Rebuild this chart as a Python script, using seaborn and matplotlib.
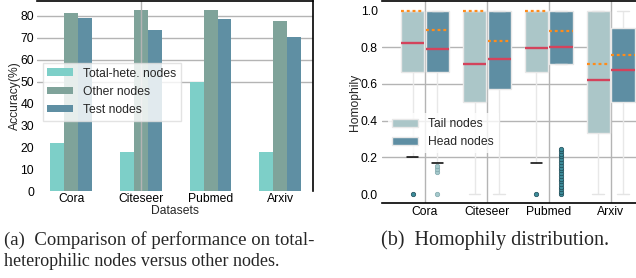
import numpy as np
import pandas as pd
import matplotlib
matplotlib.use("Agg")
import matplotlib.pyplot as plt
import seaborn as sns

# ---------------- data: (a) accuracy ----------------
datasets = ["Cora", "Citeseer", "Pubmed", "Arxiv"]
acc_groups = ["Total-hete. nodes", "Other nodes", "Test nodes"]
acc_total_hete = [22.0, 18.0, 50.0, 18.0]
acc_other = [81.5, 82.5, 82.5, 77.5]
acc_test = [79.0, 73.5, 78.5, 70.5]
acc_ticks = [0, 10, 20, 30, 40, 50, 60, 70, 80]

# ---------------- data: (b) homophily samples ----------------
node_types = ["Tail nodes", "Head nodes"]
homo_cora_tail = [0.0, 0.2, 0.667, 0.75, 0.821, 0.9, 1.0, 1.0, 1.0]
homo_cora_head = [0.0, 0.12, 0.135, 0.15, 0.17, 0.667, 0.70, 0.73, 0.76, 0.78,
                  0.79, 0.85, 0.90, 0.95, 0.98, 1.0, 1.0, 1.0, 1.0, 1.0, 1.0]
homo_citeseer_tail = [0.0, 0.501, 0.707, 1.0, 1.0]
homo_citeseer_head = [0.0, 0.571, 0.736, 1.0, 1.0]
homo_pubmed_tail = [0.0, 0.17, 0.667, 0.73, 0.794, 0.9, 1.0, 1.0, 1.0]
homo_pubmed_head = ([0.0, 0.012, 0.025, 0.04, 0.055, 0.07, 0.083, 0.1, 0.115,
                     0.13, 0.143, 0.16, 0.175, 0.19, 0.205, 0.22, 0.232, 0.245]
                    + [0.707] * 18 + [0.799] * 18 + [1.0] * 19)
homo_arxiv_tail = [0.0, 0.333, 0.624, 1.0, 1.0]
homo_arxiv_head = [0.0, 0.501, 0.678, 0.904, 1.0]
dotted_tail = [1.0, 1.0, 1.0, 0.707]
dotted_head = [0.895, 0.834, 0.890, 0.756]
homo_ticks = [0.0, 0.2, 0.4, 0.6, 0.8, 1.0]

# ---------------- tables ----------------
acc_df = pd.DataFrame({
    "Datasets": datasets * 3,
    "Accuracy": acc_total_hete + acc_other + acc_test,
    "Group": [g for g in acc_groups for _ in datasets],
})

samples = {
    ("Cora", "Tail nodes"): homo_cora_tail, ("Cora", "Head nodes"): homo_cora_head,
    ("Citeseer", "Tail nodes"): homo_citeseer_tail, ("Citeseer", "Head nodes"): homo_citeseer_head,
    ("Pubmed", "Tail nodes"): homo_pubmed_tail, ("Pubmed", "Head nodes"): homo_pubmed_head,
    ("Arxiv", "Tail nodes"): homo_arxiv_tail, ("Arxiv", "Head nodes"): homo_arxiv_head,
}
rows = []
for (d, t), vals in samples.items():
    for v in vals:
        rows.append((d, t, v))
homo_df = pd.DataFrame(rows, columns=["Dataset", "Type", "Homophily"])
dot_df = pd.DataFrame({
    "Dataset": datasets * 2,
    "Type": ["Tail nodes"] * 4 + ["Head nodes"] * 4,
    "Homophily": dotted_tail + dotted_head,
})

# ---------------- style ----------------
sns.set_theme(style="white")
plt.rcParams["font.family"] = ["Liberation Sans", "DejaVu Sans"]
FS = 8.7
GRID = "#b4b4b4"
bar_colors = ["#7dcfc8", "#7fa39a", "#5f8fa3"]
box_colors = ["#abc6c8", "#5e8ea3"]

fig = plt.figure(figsize=(6.36, 2.78), dpi=100)
ax1 = fig.add_axes([37 / 636, 1 - 191 / 278, 276 / 636, 190 / 278])
ax2 = fig.add_axes([382 / 636, 1 - 203 / 278, 254 / 636, 202 / 278])

# ---------------- (a) bars ----------------
sns.barplot(data=acc_df, x="Datasets", y="Accuracy", hue="Group", order=datasets,
            hue_order=acc_groups, palette=bar_colors, saturation=1, width=0.6,
            errorbar=None, linewidth=0, ax=ax1)
ax1.set_xlim(-0.49, 3.47)
ax1.set_ylim(0, 86.8)
ax1.set_yticks(acc_ticks)
ax1.set_axisbelow(True)
ax1.yaxis.grid(True, color=GRID, lw=1)
ax1.xaxis.grid(False)
for tick_val, gl in zip(acc_ticks, ax1.yaxis.get_gridlines()):
    gl.set_visible(tick_val >= 50)
ax1.axvline(1, color=GRID, lw=1, zorder=2)
ax1.tick_params(axis="both", length=0, labelsize=FS, colors="black")
ax1.tick_params(axis="y", pad=2)
ax1.tick_params(axis="x", pad=1.5)
ax1.set_xlabel("Datasets", fontsize=FS, labelpad=0)
ax1.set_ylabel("Accuracy(%)", fontsize=FS, labelpad=0)
for s in ["left", "bottom"]:
    ax1.spines[s].set_visible(False)
for s in ["top", "right"]:
    ax1.spines[s].set_color("black")
    ax1.spines[s].set_linewidth(1.2)
sns.move_legend(ax1, "upper left", bbox_to_anchor=(0.02, 0.675), borderaxespad=0,
                title=None, fontsize=FS, frameon=True, framealpha=0.82,
                edgecolor="#dddddd", fancybox=False, handlelength=2.1,
                handleheight=0.6, handletextpad=0.85, borderpad=0.4)

# ---------------- (b) boxes ----------------
sns.boxplot(data=homo_df, x="Dataset", y="Homophily", hue="Type", order=datasets,
            hue_order=node_types, palette=box_colors, saturation=1, width=0.8,
            gap=0.06, whis=1.5, linecolor="#e8e8e8", linewidth=1, fliersize=3.2,
            medianprops=dict(color="#d3435c", linewidth=1.7),
            flierprops=dict(marker="o", markerfacecolor="#3d8c9a",
                            markeredgecolor="#1d4a55", markeredgewidth=0.5),
            ax=ax2)
sns.boxplot(data=dot_df, x="Dataset", y="Homophily", hue="Type", order=datasets,
            hue_order=node_types, width=0.8, gap=0.06, fill=False, legend=False,
            showcaps=False, showfliers=False,
            boxprops=dict(visible=False), whiskerprops=dict(visible=False),
            medianprops=dict(color="#ff8c1a", linewidth=1.6, linestyle=(0, (1.3, 1.3))),
            ax=ax2)

box_containers = [c for c in ax2.containers if hasattr(c, "caps")]
tail_c, head_c = box_containers[0], box_containers[1]
for cont in (tail_c, head_c):
    for cap in cont.caps:
        cap.set_color("#e4e4e4")
for cap in (tail_c.caps[0], tail_c.caps[4], head_c.caps[0]):
    cap.set_color("black")
    cap.set_linewidth(1.1)
for fl in tail_c.fliers:
    fl.set_markerfacecolor("#3d8c9a")
head_c.fliers[0].set_markerfacecolor("#a5c9cc")
head_c.fliers[0].set_markeredgecolor("#7fa7ab")

ax2.set_xlim(-0.695, 3.41)
ax2.set_ylim(-0.049, 1.052)
ax2.set_yticks(homo_ticks)
ax2.set_yticklabels([f"{t:.1f}" for t in homo_ticks])
ax2.set_axisbelow(True)
ax2.grid(True, color=GRID, lw=1)
for tick_val, gl in zip(homo_ticks, ax2.yaxis.get_gridlines()):
    gl.set_visible(0.1 < tick_val < 0.9)
ax2.tick_params(axis="both", length=0, labelsize=FS, colors="black")
ax2.tick_params(axis="y", pad=3)
ax2.tick_params(axis="x", pad=2.5)
ax2.set_xlabel("")
ax2.set_ylabel("Homophily", fontsize=FS, labelpad=0)
for s in ["left", "right"]:
    ax2.spines[s].set_visible(False)
for s in ["top", "bottom"]:
    ax2.spines[s].set_color("black")
    ax2.spines[s].set_linewidth(1.2)
sns.move_legend(ax2, "upper left", bbox_to_anchor=(0.022, 0.445), borderaxespad=0,
                title=None, fontsize=FS, frameon=True, framealpha=0.8,
                edgecolor="none", fancybox=False, handlelength=2.1,
                handleheight=0.6, handletextpad=0.85, borderpad=0.4)

# ---------------- captions ----------------
serif = ["Liberation Serif", "DejaVu Serif"]
fig.text(4 / 636, 1 - 240 / 278, "(a)  Comparison of performance on total-",
         family=serif, fontsize=13.5, va="center", ha="left")
fig.text(4 / 636, 1 - 262 / 278, "heterophilic nodes versus other nodes.",
         family=serif, fontsize=13.0, va="center", ha="left")
fig.text(381 / 636, 1 - 240 / 278, "(b)  Homophily distribution.",
         family=serif, fontsize=14.5, va="center", ha="left")

fig.savefig("out.png", dpi=100)
